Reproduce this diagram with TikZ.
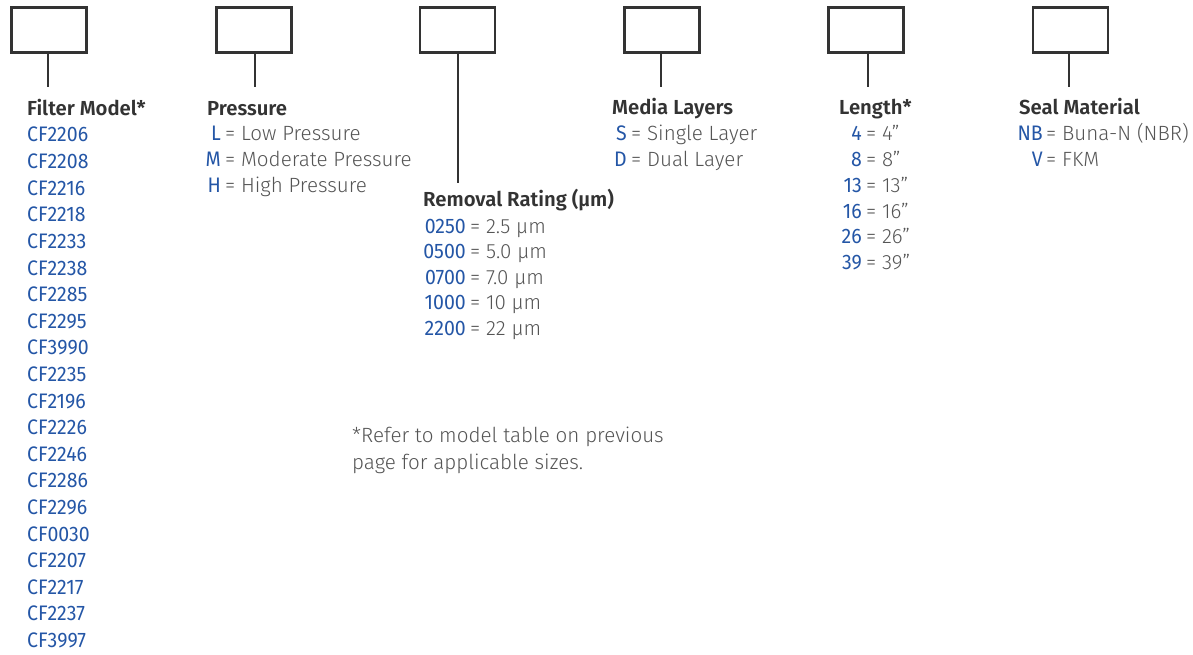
\documentclass[tikz,border=0pt]{standalone}
\usepackage{fontspec}
\setmainfont{Fira Sans Light}[BoldFont={Fira Sans SemiBold}]
\newfontfamily\codefont{Fira Sans}[FakeStretch=0.93]
\definecolor{codeblue}{RGB}{36,86,166}
\definecolor{bodygrey}{RGB}{85,85,85}
\definecolor{titlegrey}{RGB}{51,51,51}
\tikzset{
  box/.style={draw=titlegrey, line width=2.6pt, minimum width=75pt, minimum height=45pt, inner sep=0pt},
  stem/.style={draw=titlegrey, line width=2.6pt},
  ttl/.style={anchor=base west, inner sep=0pt, font=\fontsize{20.3}{24}\selectfont\bfseries, text=titlegrey},
  code/.style={anchor=base east, inner sep=0pt, font=\fontsize{21}{24}\codefont, text=codeblue},
  model/.style={anchor=base west, inner sep=0pt, font=\fontsize{21}{24}\codefont, text=codeblue},
  val/.style={anchor=base west, inner sep=0pt, font=\fontsize{20.6}{24}\selectfont, text=bodygrey},
}
\begin{document}
\begin{tikzpicture}[x=1pt,y=-1pt]
\useasboundingbox (0,0) rectangle (1193,655);
% boxes
\node[box] (b1) at (49,30) {};
\node[box] (b2) at (254,30) {};
\node[box] (b3) at (457.5,30) {};
\node[box] (b4) at (662,30) {};
\node[box] (b5) at (866,30) {};
\node[box] (b6) at (1070.5,30) {};
\coordinate (s1) at (48,87);
\coordinate (s2) at (255,87);
\coordinate (s3) at (458,183);
\coordinate (s4) at (661,87);
\coordinate (s5) at (868,87);
\coordinate (s6) at (1069,87);
\foreach \i in {1,...,6} { \draw[stem] (b\i.south -| s\i) -- (s\i); }
% Filter Model
\node[ttl] (t1) at (27,116) {Filter Model*};
\foreach \m [count=\k from 0] in {CF2206,CF2208,CF2216,CF2218,CF2233,CF2238,CF2285,CF2295,CF3990,CF2235,CF2196,CF2226,CF2246,CF2286,CF2296,CF0030,CF2207,CF2217,CF2237,CF3997}
  { \node[model] (m\k) at (27,{142+26.6*\k}) {\m}; }
% Pressure
\node[ttl] (t2) at (207,116) {Pressure};
\foreach \c/\v [count=\k from 0] in {L/Low Pressure,M/Moderate Pressure,H/High Pressure}
  { \node[code] (pc\k) at (221,{141+26*\k}) {\c};
    \node[val] (pv\k) at (225,{141+26*\k}) {= \v}; }
% Removal Rating
\node[ttl] (t3) at (423,207) {Removal Rating (µm)};
\foreach \c/\v [count=\k from 0] in {0250/2.5 µm,0500/5.0 µm,0700/7.0 µm,1000/10 µm,2200/22 µm}
  { \node[code] (rc\k) at (466,{233+25.5*\k}) {\c};
    \node[val] (rv\k) at (470,{233+25.5*\k}) {= \v}; }
% Media Layers
\node[ttl] (t4) at (612,115) {Media Layers};
\foreach \c/\v [count=\k from 0] in {S/Single Layer,D/Dual Layer}
  { \node[code] (lc\k) at (627,{141+26*\k}) {\c};
    \node[val] (lv\k) at (631,{141+26*\k}) {= \v}; }
% Length
\node[ttl] (t5) at (839,115) {Length*};
\foreach \c [count=\k from 0] in {4,8,13,16,26,39}
  { \node[code] (nc\k) at (862,{141+25.7*\k}) {\c};
    \node[val] (nv\k) at (866,{141+25.7*\k}) {= \c\symbol{34}}; }
% Seal Material
\node[ttl] (t6) at (1019,115) {Seal Material};
\node[code] (sc0) at (1043,141) {NB};
\node[val] (sv0) at (1046,141) {= Buna-N (NBR)};
\node[code] (sc1) at (1043,167) {V};
\node[val] (sv1) at (1046,167) {= FKM};
% footnote
\node[val] (f1) at (352,442) {*Refer to model table on previous};
\node[val] (f2) at (352,469) {page for applicable sizes.};
\end{tikzpicture}
\end{document}
